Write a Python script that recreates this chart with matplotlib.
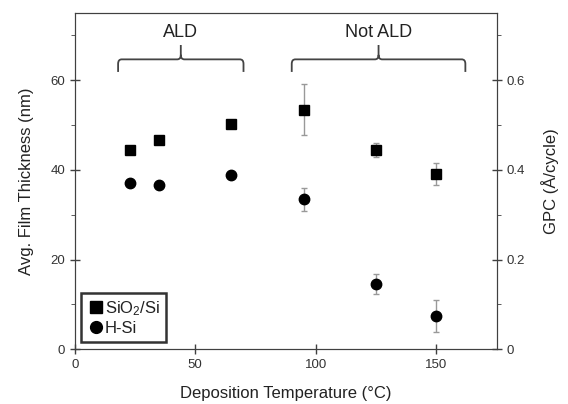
import numpy as np
import matplotlib.pyplot as plt
from matplotlib.path import Path
from matplotlib.patches import PathPatch
from matplotlib.lines import Line2D
from matplotlib.ticker import MultipleLocator

plt.rcParams['font.family'] = ['Liberation Sans', 'DejaVu Sans']
plt.rcParams['mathtext.fontset'] = 'custom'
plt.rcParams['mathtext.rm'] = 'Liberation Sans'
plt.rcParams['mathtext.it'] = 'Liberation Sans'

# data
temps = [23, 35, 65, 95, 125, 150]
sio2_thick = [44.4, 46.7, 50.1, 53.4, 44.4, 39.0]
sio2_err = [0, 0, 0, 5.6, 1.5, 2.5]
hsi_thick = [37.1, 36.6, 38.9, 33.4, 14.6, 7.4]
hsi_err = [0, 0, 0, 2.5, 2.2, 3.5]

txt = '#222222'
spine = '#404040'

fig = plt.figure(figsize=(5.68, 4.04), dpi=100)
ax = fig.add_axes([0.1315, 0.1354, 0.743, 0.8332])

ax.errorbar(temps, sio2_thick, yerr=sio2_err, fmt='s', color='black', ms=7,
            ecolor='#999999', elinewidth=1, capsize=2.5, capthick=1)
ax.errorbar(temps, hsi_thick, yerr=hsi_err, fmt='o', color='black', ms=7.5,
            ecolor='#999999', elinewidth=1, capsize=2.5, capthick=1)

ax.set_xlim(0, 175)
ax.set_ylim(0, 75)
ax.set_xticks([0, 50, 100, 150])
ax.set_yticks([0, 20, 40, 60])
ax.yaxis.set_minor_locator(MultipleLocator(10))
ax.tick_params(axis='both', which='major', direction='inout', length=7, width=1,
               color=spine, labelsize=9.5, labelcolor='#333333')
ax.tick_params(axis='y', which='minor', direction='out', length=3, color=spine)
for s in ax.spines.values():
    s.set_color(spine)
ax.set_xlabel('Deposition Temperature (°C)', fontsize=12, color=txt, labelpad=11)
ax.set_ylabel('Avg. Film Thickness (nm)', fontsize=12, color=txt, labelpad=12)

ax2 = ax.twinx()
ax2.set_ylim(0, 0.75)
ax2.set_yticks([0, 0.2, 0.4, 0.6])
ax2.set_yticklabels(['0', '0.2', '0.4', '0.6'])
ax2.yaxis.set_minor_locator(MultipleLocator(0.1))
ax2.tick_params(axis='y', which='major', direction='inout', length=7, width=1,
                color=spine, labelsize=9.5, labelcolor='#333333')
ax2.tick_params(axis='y', which='minor', direction='out', length=3, color=spine)
for s in ax2.spines.values():
    s.set_color(spine)
ax2.set_ylabel('GPC (Å/cycle)', fontsize=12, color=txt, labelpad=12)


def brace(a, x0, x1, xm, y0, y1, y2):
    r = 1.5
    verts = [(x0, y0), (x0, y1 - 1), (x0, y1), (x0 + r, y1),
             (xm - r, y1), (xm, y1), (xm, y1 + 1), (xm, y2),
             (xm, y1 + 1), (xm, y1), (xm + r, y1),
             (x1 - r, y1), (x1, y1), (x1, y1 - 1), (x1, y0)]
    codes = [Path.MOVETO, Path.LINETO, Path.CURVE3, Path.CURVE3,
             Path.LINETO, Path.CURVE3, Path.CURVE3, Path.LINETO,
             Path.MOVETO, Path.CURVE3, Path.CURVE3,
             Path.LINETO, Path.CURVE3, Path.CURVE3, Path.LINETO]
    a.add_patch(PathPatch(Path(verts, codes), fill=False, lw=1.3, ec='#444444'))


brace(ax, 18, 70, 44, 61.8, 64.6, 67.8)
brace(ax, 90, 162, 126, 61.8, 64.6, 67.8)
ax.text(44, 70.5, 'ALD', ha='center', va='center', fontsize=13, color=txt)
ax.text(126, 70.5, 'Not ALD', ha='center', va='center', fontsize=13, color=txt)

handles = [Line2D([], [], ls='none', marker='s', ms=8, color='black'),
           Line2D([], [], ls='none', marker='o', ms=8.5, color='black')]
leg = ax.legend(handles, ['SiO$_2$/Si', 'H-Si'], loc='lower left',
                bbox_to_anchor=(0.016, 0.022), fontsize=12,
                handletextpad=0.05, handlelength=1.0, borderpad=0.35, labelspacing=0.2,
                fancybox=False, borderaxespad=0, labelcolor=txt)
leg.get_frame().set_edgecolor('black')
leg.get_frame().set_linewidth(1.8)

fig.savefig('out.png', dpi=100)
